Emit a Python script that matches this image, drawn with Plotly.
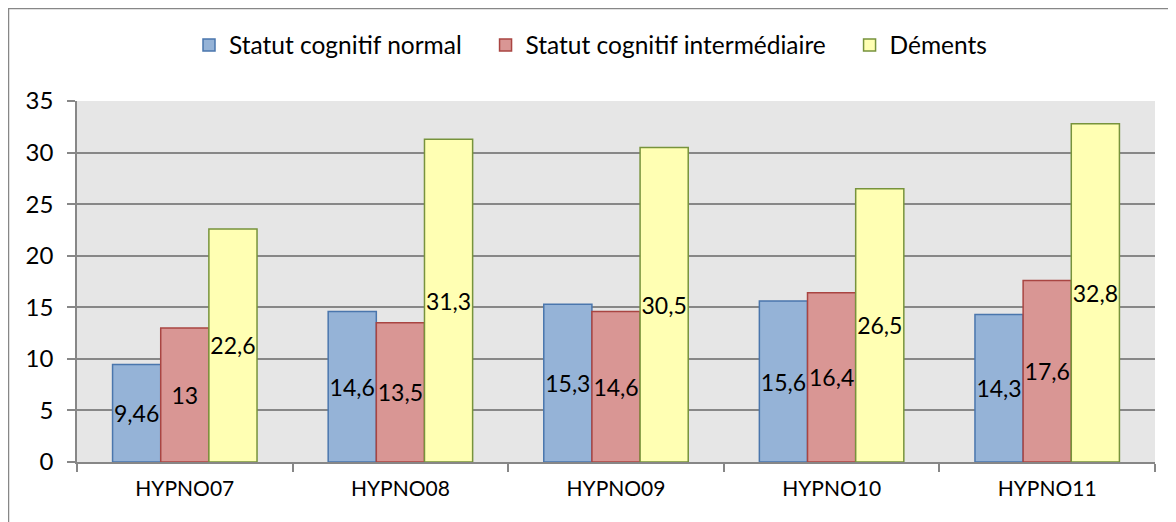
import plotly.graph_objects as go

categories = ["HYPNO07", "HYPNO08", "HYPNO09", "HYPNO10", "HYPNO11"]
series_names = ["Statut cognitif normal", "Statut cognitif intermédiaire", "Déments"]
normal = [9.46, 14.6, 15.3, 15.6, 14.3]
intermediaire = [13, 13.5, 14.6, 16.4, 17.6]
dements = [22.6, 31.3, 30.5, 26.5, 32.8]
y_ticks = [0, 5, 10, 15, 20, 25, 30, 35]

fills = ["#95B3D7", "#D99694", "#FFFFB3"]
edges = ["#4A76AD", "#A94542", "#77933C"]

FONT = "Lato"
# page body adds an 8px offset; figure coords = screen coords - 8
OFF = 8
W, H = 1168, 514
ML, MR, MT, MB = 69, 21, 93, 60
pw = W - ML - MR
ph = H - MT - MB

def fmt(v):
    return ("%g" % v).replace(".", ",")

def px_x(p):  # screen px -> paper
    return (p - OFF - ML) / pw

def px_y(p):
    return (H - MB - (p - OFF)) / ph

PAD = "\u00a0" * 3
fig = go.Figure()
for i, (name, vals, fc, ec) in enumerate(zip(series_names, [normal, intermediaire, dements], fills, edges)):
    fig.add_trace(go.Bar(
        x=categories, y=vals, name=name + (PAD if i < 2 else ""),
        marker=dict(color=fc, line=dict(color=ec, width=1.5)),
        text=[fmt(v) for v in vals], textposition="inside",
        insidetextanchor="middle", textangle=0,
        textfont=dict(family=FONT, size=23, color="#000000"),
        constraintext="none", cliponaxis=False,
    ))

fig.add_shape(type="rect", xref="paper", yref="paper",
              x0=px_x(8.5), x1=px_x(1190), y0=px_y(8.5), y1=px_y(540),
              line=dict(color="#878787", width=1.5), fillcolor="rgba(0,0,0,0)", layer="below")

fig.update_layout(
    width=W, height=H,
    margin=dict(l=ML, r=MR, t=MT, b=MB),
    paper_bgcolor="white",
    plot_bgcolor="#E6E6E6",
    barmode="group", bargap=0.33, bargroupgap=0,
    font=dict(family=FONT, size=22, color="#000000"),
    separators=",.",
    legend=dict(orientation="h", x=px_x(189), xanchor="left", y=px_y(45), yanchor="middle",
                font=dict(family=FONT, size=24.5), bgcolor="rgba(0,0,0,0)",
                traceorder="normal"),
    xaxis=dict(showgrid=False, ticks="outside", tickson="boundaries", ticklen=8,
               tickcolor="#878787", tickwidth=1.5, showline=True, linecolor="#878787",
               linewidth=1.5, tickfont=dict(family=FONT, size=21), ticklabelstandoff=7),
    yaxis=dict(range=[0, 35], tickvals=y_ticks, showgrid=True, gridcolor="#878787", gridwidth=1.5,
               ticks="outside", ticklen=8, tickcolor="#878787", tickwidth=1.5,
               showline=True, linecolor="#878787", linewidth=1.5, zeroline=False,
               tickfont=dict(family=FONT, size=24), ticklabelstandoff=9),
)

fig.write_html("out.html")
